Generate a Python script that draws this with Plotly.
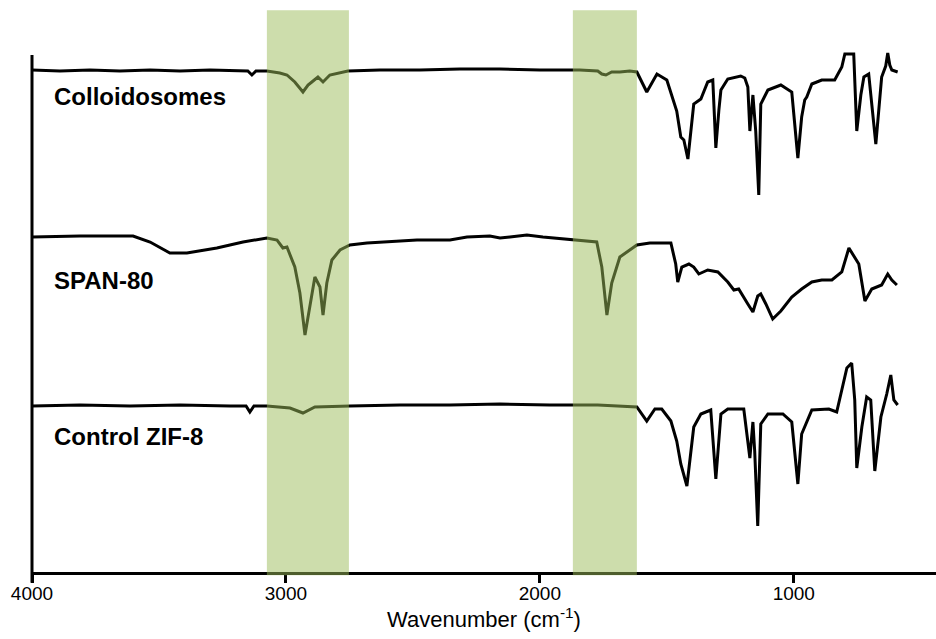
import plotly.graph_objects as go

# ---------------- data (wavenumber in cm^-1, signal in arbitrary units, offset stacked) ----------------
colloid_wn = [4000, 3890, 3772, 3654, 3535, 3417, 3299, 3181, 3150, 3134, 3118, 3075, 3024, 2996, 2965,
              2933, 2913, 2898, 2874, 2854, 2827, 2756, 2630, 2472, 2315, 2157, 2000, 1843, 1772, 1756,
              1740, 1717, 1685, 1646, 1618, 1579, 1539, 1500, 1461, 1445, 1433, 1417, 1394, 1366, 1339,
              1319, 1307, 1295, 1287, 1260, 1209, 1193, 1181, 1173, 1161, 1150, 1138, 1130, 1102, 1051,
              1008, 984, 969, 957, 949, 929, 890, 839, 811, 799, 764, 752, 736, 724, 705, 677, 654, 638,
              630, 622, 614, 591]
colloid_val = [503, 502, 503, 502, 503, 502, 503, 502, 502, 498, 502, 502, 500, 498, 491,
               481, 488, 491, 496, 491, 498, 502, 503, 503, 504, 504, 503, 503, 502, 499,
               498, 501, 501, 502, 501, 481, 499, 493, 462, 436, 433, 414, 469, 474, 491,
               493, 425, 463, 483, 494, 497, 495, 486, 442, 478, 442, 378, 469, 483, 488,
               481, 415, 456, 473, 476, 489, 493, 493, 506, 519, 519, 442, 478, 496, 499, 429, 496, 507,
               520, 508, 503, 501]

span_wn = [4000, 3811, 3602, 3535, 3457, 3390, 3272, 3169, 3075, 3035, 3012, 2996, 2965, 2945, 2925,
           2906, 2886, 2866, 2854, 2839, 2819, 2787, 2748, 2681, 2618, 2484, 2354, 2287, 2197, 2157,
           2118, 2051, 1988, 1870, 1776, 1756, 1736, 1717, 1685, 1618, 1567, 1484, 1465, 1457, 1441,
           1413, 1394, 1374, 1339, 1299, 1260, 1236, 1217, 1181, 1161, 1142, 1130, 1110, 1083, 1051,
           1008, 969, 929, 890, 850, 811, 783, 744, 720, 693, 654, 630, 614, 594]
span_val = [336, 337, 337, 331, 320, 320, 325, 331, 335, 333, 325, 326, 306, 280, 238,
            266, 296, 286, 258, 290, 313, 323, 328, 330, 331, 333, 333, 336, 337, 335,
            336, 338, 336, 333, 331, 306, 258, 290, 316, 328, 330, 330, 309, 291, 306,
            309, 306, 299, 303, 301, 291, 283, 284, 269, 261, 277, 279, 269, 254, 262,
            276, 284, 291, 293, 293, 301, 325, 309, 272, 284, 288, 299, 293, 288]

zif_wn = [4000, 3811, 3614, 3417, 3220, 3157, 3142, 3126, 3075, 2984, 2933, 2886, 2748, 2551, 2354,
          2157, 1961, 1772, 1618, 1579, 1547, 1520, 1484, 1461, 1445, 1421, 1394, 1366, 1327, 1307,
          1287, 1260, 1197, 1173, 1161, 1154, 1142, 1130, 1102, 1043, 1008, 984, 969, 949, 929, 862,
          831, 811, 791, 772, 760, 752, 732, 713, 697, 681, 657, 634, 618, 606, 591]
zif_val = [167, 168, 167, 168, 167, 167, 161, 167, 167, 165, 160, 166, 167, 168, 168,
           169, 168, 168, 166, 152, 164, 164, 152, 132, 109, 87, 146, 159, 163, 94,
           159, 164, 164, 115, 151, 122, 47, 149, 159, 159, 151, 89, 139, 152, 163, 164,
           161, 183, 205, 210, 173, 105, 146, 176, 173, 102, 156, 179, 198, 173, 168]

labels = ["Colloidosomes", "SPAN-80", "Control ZIF-8"]
label_y = [477, 293, 137]
label_x = 3921

bands = [(3075, 2752), (1870, 1618)]
tick_vals = [4000, 3000, 2000, 1000]
tick_text = ["4000", "3000", "2000", "1000"]

FONT = "Arial, Liberation Sans, sans-serif"

# ---------------- figure ----------------
fig = go.Figure()
for wn, val in [(colloid_wn, colloid_val), (span_wn, span_val), (zif_wn, zif_val)]:
    fig.add_trace(go.Scatter(x=wn, y=val, mode="lines",
                             line=dict(color="black", width=3),
                             showlegend=False, hoverinfo="skip"))

for lab, ly in zip(labels, label_y):
    fig.add_annotation(x=label_x, y=ly, xref="x", yref="y", text="<b>%s</b>" % lab,
                       showarrow=False, xanchor="left", yanchor="middle",
                       font=dict(family=FONT, size=24, color="black"))

# vertical (y) axis line, shorter than the plotting area as in the reference
fig.add_shape(type="line", xref="paper", yref="paper", x0=0, x1=0, y0=-0.02, y1=0.972,
              line=dict(color="black", width=3), layer="above")

for x0, x1 in bands:
    fig.add_shape(type="rect", xref="x", yref="paper", x0=x0, x1=x1, y0=-0.006, y1=1.056,
                  fillcolor="#9BBB59", opacity=0.5, line=dict(width=0), layer="above")

fig.update_layout(
    width=936, height=639,
    margin=dict(l=32, r=0, t=40, b=67),
    plot_bgcolor="white", paper_bgcolor="white",
    font=dict(family=FONT, color="black"),
    xaxis=dict(range=[4000, 440], showgrid=False, zeroline=False,
               showline=True, linecolor="black", linewidth=3,
               ticks="outside", ticklen=8, tickwidth=3, tickcolor="black",
               tickvals=tick_vals, ticktext=tick_text,
               ticklabelstandoff=-6,
               tickfont=dict(family=FONT, size=19, color="black"),
               title=dict(text="Wavenumber (cm<sup>-1</sup>)",
                          font=dict(family=FONT, size=22, color="black"), standoff=8)),
    yaxis=dict(range=[1, 533], showgrid=False, zeroline=False,
               showline=False, showticklabels=False, ticks=""),
)

fig.write_html("out.html")
